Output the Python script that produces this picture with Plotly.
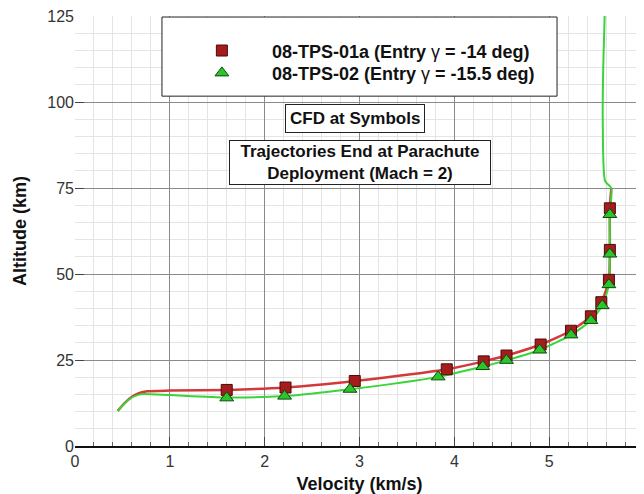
import plotly.graph_objects as go

# Trajectory lines (velocity km/s, altitude km)
red_line_v = [0.45, 0.52, 0.60, 0.68, 0.76, 1.0, 1.6, 2.22, 2.95, 3.92, 4.31, 4.55, 4.91, 5.23, 5.44, 5.55, 5.63, 5.64, 5.64, 5.655]
red_line_alt = [10.2, 12.4, 14.3, 15.4, 15.9, 16.1, 16.3, 17.0, 18.9, 22.3, 24.6, 26.3, 29.5, 33.5, 37.7, 41.8, 48.2, 57.0, 69.0, 75.0]

green_line_v = [0.45, 0.52, 0.60, 0.66, 0.72, 1.0, 1.6, 2.21, 2.90, 3.83, 4.30, 4.55, 4.90, 5.23, 5.44, 5.56, 5.63, 5.64, 5.64, 5.655, 5.59, 5.565, 5.57, 5.585]
green_line_alt = [10.2, 12.3, 14.1, 14.8, 15.1, 14.8, 14.1, 14.5, 16.5, 20.1, 23.1, 24.9, 27.9, 32.3, 36.5, 40.8, 46.9, 55.8, 67.3, 75.0, 77.0, 95.0, 110.0, 125.0]

# CFD points (symbols)
red_pts_v = [1.60, 2.22, 2.95, 3.92, 4.31, 4.55, 4.91, 5.23, 5.44, 5.55, 5.63, 5.64, 5.64]
red_pts_alt = [16.3, 17.0, 18.9, 22.3, 24.6, 26.3, 29.5, 33.5, 37.7, 41.8, 48.3, 57.0, 69.1]

green_pts_v = [1.60, 2.21, 2.90, 3.83, 4.30, 4.55, 4.90, 5.23, 5.44, 5.56, 5.63, 5.64, 5.64]
green_pts_alt = [14.0, 14.5, 16.5, 20.1, 23.1, 24.9, 27.9, 32.3, 36.5, 40.8, 46.9, 55.8, 67.3]

x_ticks = [0, 1, 2, 3, 4, 5, 6]
y_ticks = [0, 25, 50, 75, 100, 125]

FONT = "Liberation Sans, Arial, sans-serif"
NB = "\u00a0" * 6
PAD = "\u00a0" * 2

fig = go.Figure()

fig.add_trace(go.Scatter(
    x=red_line_v, y=red_line_alt, mode="lines",
    line=dict(color="#d23a3a", width=2.5, shape="spline", smoothing=0.6),
    showlegend=False, hoverinfo="skip"
))
fig.add_trace(go.Scatter(
    x=green_line_v, y=green_line_alt, mode="lines",
    line=dict(color="#3ad43a", width=2, shape="spline", smoothing=0.6),
    showlegend=False, hoverinfo="skip"
))
fig.add_trace(go.Scatter(
    x=red_pts_v, y=red_pts_alt, mode="markers", legend="legend",
    name=NB + "<b>08-TPS-01a (Entry </b>γ<b> = -14 deg)</b>",
    marker=dict(symbol="square", size=11, color="#a51c1c",
                line=dict(color="#4a0c0c", width=1))
))
fig.add_trace(go.Scatter(
    x=green_pts_v, y=green_pts_alt, mode="markers", legend="legend2",
    name=NB + "<b>08-TPS-02 (Entry </b>γ<b> = -15.5 deg)</b>",
    marker=dict(symbol="triangle-up", size=12, color="#2ec42e",
                line=dict(color="#0b4a0b", width=1))
))

# Legend frame
fig.add_shape(type="rect", x0=0.917, x1=5.083, y0=101.7, y1=124.7,
              line=dict(color="#222", width=1), fillcolor="white", layer="between")

fig.add_annotation(x=2.953, y=95.1, text="<b>CFD at Symbols</b>", showarrow=False,
                   font=dict(family=FONT, size=17, color="#111"),
                   bgcolor="white", bordercolor="#222", borderwidth=1, borderpad=4)
fig.add_annotation(x=3.005, y=82.4,
                   text="<b>" + PAD + "Trajectories End at Parachute" + PAD
                        + "<br>Deployment (Mach = 2)</b>",
                   showarrow=False, font=dict(family=FONT, size=17, color="#111"),
                   bgcolor="white", bordercolor="#222", borderwidth=1, borderpad=1)

axis_style = dict(
    showgrid=True, gridcolor="#8a8a8a", gridwidth=1, automargin=False,
    zeroline=False, ticks="inside", ticklen=9, tickcolor="#444",
    ticklabeloverflow="allow",
    tickfont=dict(family=FONT, size=16, color="#333"),
)

fig.update_xaxes(
    range=[0, 6], tickvals=x_ticks, ticktext=[str(t) for t in x_ticks],
    showline=True, linecolor="#111", linewidth=2,
    minor=dict(dtick=0.2, showgrid=True, gridcolor="#e4e4e4", ticks="inside",
               ticklen=4, tickcolor="#666"),
    title=dict(text="<b>Velocity (km/s)</b>", font=dict(family=FONT, size=18, color="#111")),
    **axis_style
)
fig.update_yaxes(
    range=[0, 125], tickvals=y_ticks, ticktext=[str(t) for t in y_ticks],
    showline=False,
    minor=dict(dtick=5, showgrid=True, gridcolor="#e4e4e4", ticks=""),
    title=dict(text="<b>Altitude (km)</b>", font=dict(family=FONT, size=18, color="#111")),
    **axis_style
)

legend_style = dict(xanchor="left", yanchor="middle", bgcolor="rgba(0,0,0,0)",
                    borderwidth=0, font=dict(family=FONT, size=18, color="#111"),
                    itemwidth=30)

# page body has an 8px margin, so the figure is 8px smaller than the window
fig.update_layout(
    width=636, height=486,
    margin=dict(l=67, r=0, t=8, b=48),
    paper_bgcolor="white", plot_bgcolor="white",
    font=dict(family=FONT, color="#111"),
    legend=dict(x=0.223, y=0.919, **legend_style),
    legend2=dict(x=0.223, y=0.867, **legend_style),
)

fig.write_html("out.html")
